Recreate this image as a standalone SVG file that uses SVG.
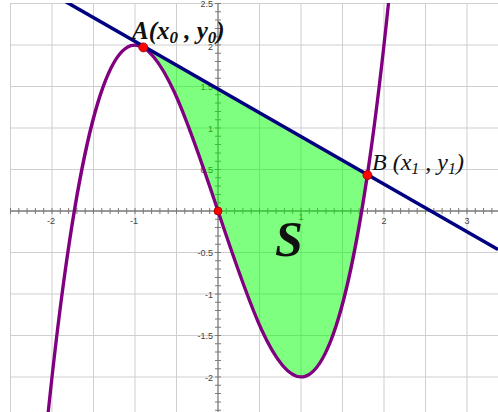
<svg xmlns="http://www.w3.org/2000/svg" width="498" height="412" viewBox="0 0 498 412">
  <defs>
    <clipPath id="plot">
      <rect x="10" y="3" width="488" height="409"/>
    </clipPath>
    <style>
      .grid { stroke: #cfcfcf; stroke-width: 1; fill: none; }
      .axis { stroke: #7a7a7a; stroke-width: 1.3; fill: none; }
      .tick { stroke: #7a7a7a; stroke-width: 6; fill: none; stroke-dasharray: 1 7.3; }
      .tl { font-family: "Liberation Sans", Arial, sans-serif; font-size: 9px; fill: #444; }
      .tx { text-anchor: middle; }
      .ty { text-anchor: end; }
      .lab { font-family: "Liberation Serif", "Times New Roman", serif; font-style: italic; fill: #111; }
      .pt { fill: #ff0000; stroke: #a00000; stroke-width: 0.8; }
    </style>
  </defs>
  <rect width="498" height="412" fill="#ffffff"/>

  <g id="grid" clip-path="url(#plot)">
    <path class="grid" d="M10.5,3V412 M52,3V412 M93.5,3V412 M135,3V412 M176.5,3V412 M259.5,3V412 M301,3V412 M342.5,3V412 M384,3V412 M425.5,3V412 M467,3V412
      M10,3.5H498 M10,45H498 M10,86.5H498 M10,128H498 M10,169.5H498 M10,252.5H498 M10,294H498 M10,335.5H498 M10,377H498"/>
  </g>

  <g id="axes" clip-path="url(#plot)">
    <path class="axis" d="M10,211H498 M218,3V412"/>
    <path class="tick" d="M10,211H498"/>
    <path class="tick" d="M218,3V412"/>
  </g>

  <g id="tick-labels">
    <text class="tl tx" x="51" y="224">-2</text>
    <text class="tl tx" x="134" y="224">-1</text>
    <text class="tl tx" x="301" y="220">1</text>
    <text class="tl tx" x="384" y="224">2</text>
    <text class="tl tx" x="467" y="224">3</text>
    <text class="tl ty" x="213" y="7">2.5</text>
    <text class="tl ty" x="213" y="50">2</text>
    <text class="tl ty" x="213" y="90">1.5</text>
    <text class="tl ty" x="213" y="131.5">1</text>
    <text class="tl ty" x="213" y="173">0.5</text>
    <text class="tl ty" x="213" y="256">-0.5</text>
    <text class="tl ty" x="213" y="297.5">-1</text>
    <text class="tl ty" x="213" y="339">-1.5</text>
    <text class="tl ty" x="213" y="380.5">-2</text>
  </g>

  <g id="region-S" clip-path="url(#plot)">
    <path d="M143.3,47.41 C218,89.99 292.7,677.13 367.4,175.14 Z" fill="#00ff00" fill-opacity="0.5" stroke="none"/>
  </g>

  <g id="curve" clip-path="url(#plot)">
    <path d="M43.7,456.76 C159.9,-731.96 276.1,1153.96 392.3,-34.76" fill="none" stroke="#800080" stroke-width="3.3"/>
  </g>

  <g id="tangent" clip-path="url(#plot)">
    <path d="M0,-36 L498,249.59" fill="none" stroke="#000080" stroke-width="3.5"/>
  </g>

  <g id="points">
    <circle id="A" class="pt" cx="143.3" cy="47.4" r="4.5"/>
    <circle id="O" class="pt" cx="218" cy="211" r="4"/>
    <circle id="B" class="pt" cx="367.4" cy="175.1" r="4.5"/>
  </g>

  <g id="labels">
    <text class="lab" x="132" y="39" font-size="25" font-weight="bold">A(x<tspan font-size="17" dy="4">0</tspan><tspan dy="-4"> , y</tspan><tspan font-size="17" dy="4">0</tspan><tspan dy="-4">)</tspan></text>
    <text class="lab" x="372" y="170" font-size="24">B (x<tspan font-size="16" dy="4">1</tspan><tspan dy="-4"> , y</tspan><tspan font-size="16" dy="4">1</tspan><tspan dy="-4">)</tspan></text>
    <text class="lab" x="275" y="256" font-size="50" font-weight="bold">S</text>
  </g>
</svg>
